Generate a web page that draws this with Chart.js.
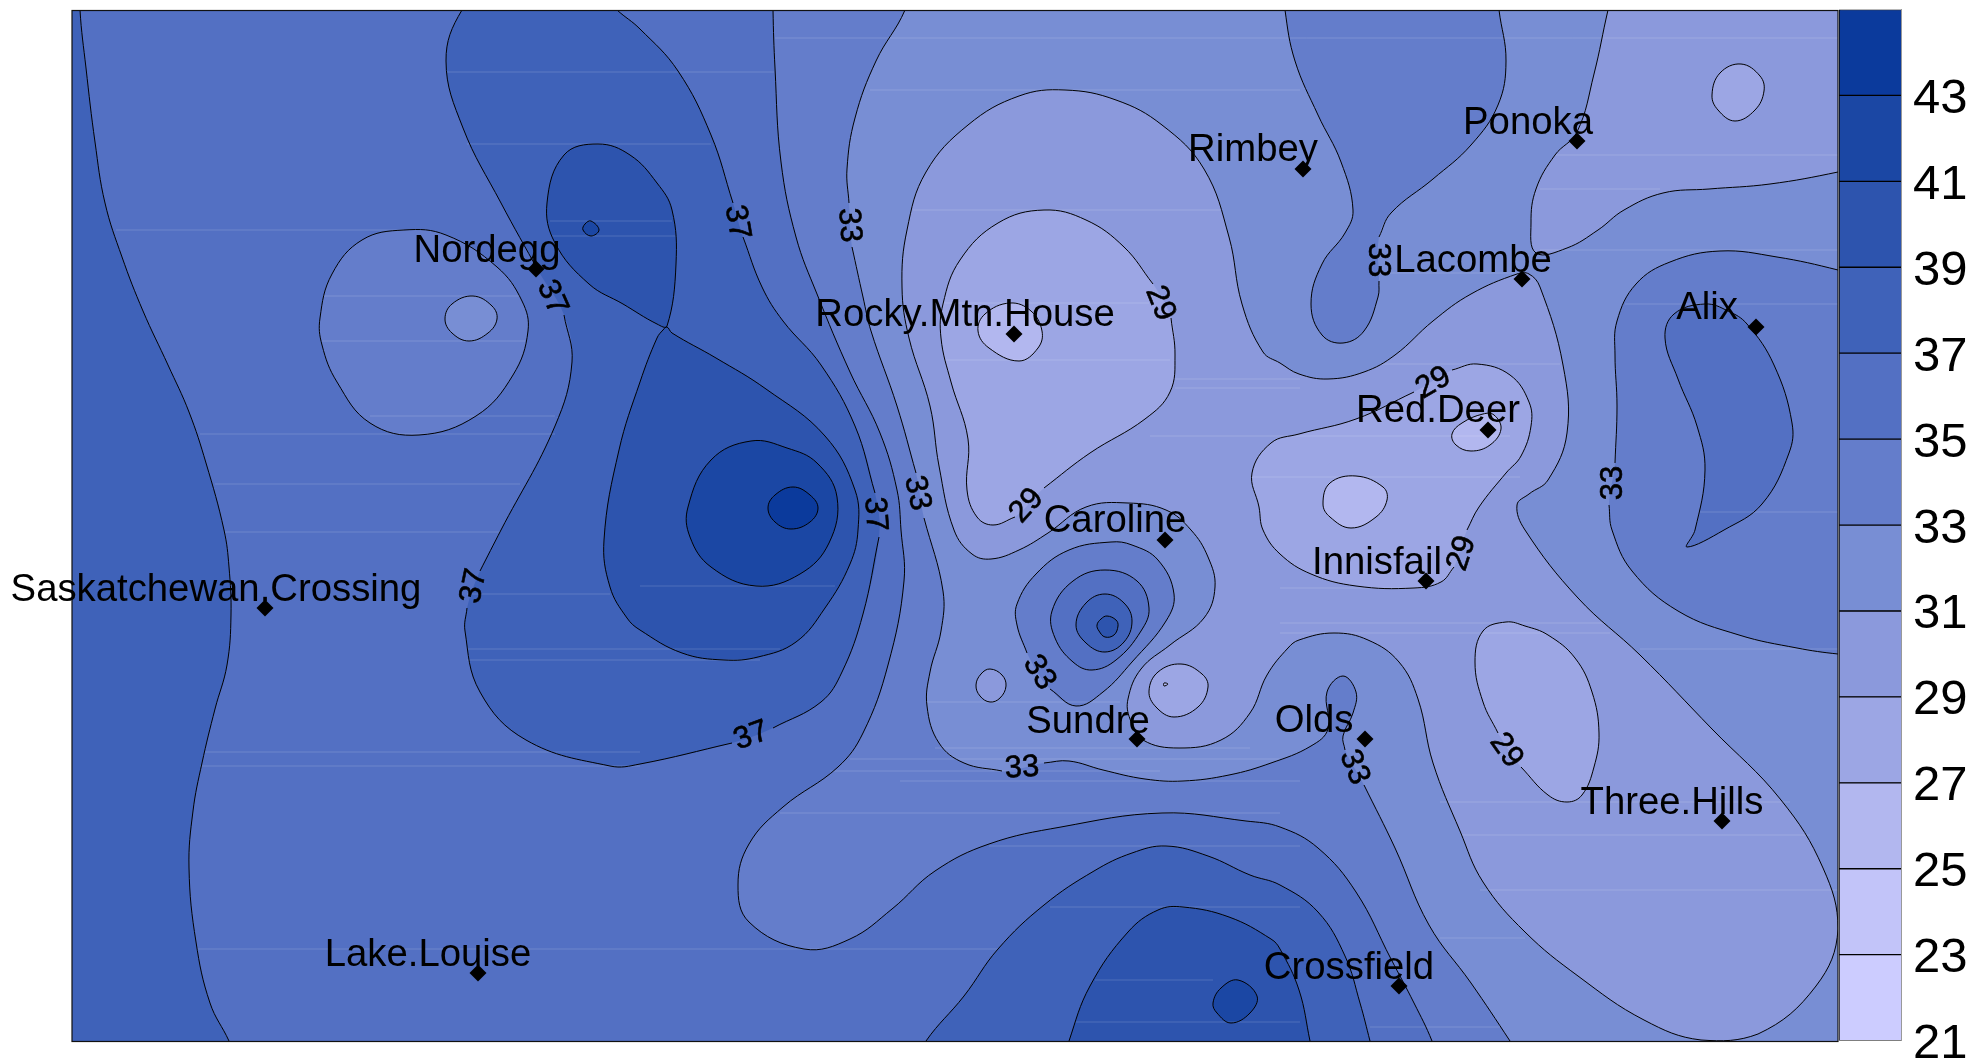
<!DOCTYPE html>
<html>
<head>
<meta charset="utf-8">
<style>
  html, body { margin: 0; padding: 0; background: #fff; overflow: hidden; }
  canvas { position: absolute; top: 0; }
</style>
<script src="https://cdn.jsdelivr.net/npm/chart.js@4"></script>
</head>
<body>
<canvas id="map" width="1973" height="1060" style="left:0"></canvas>
<canvas id="bar" width="134" height="1060" style="left:1839px"></canvas>
<script>
// colour key
const bandLevels = [21, 23, 25, 27, 29, 31, 33, 35, 37, 39, 41, 43, 45];
const keyTicks = [21, 23, 25, 27, 29, 31, 33, 35, 37, 39, 41, 43];

// stations
const stationNames = ['Nordegg', 'Rocky.Mtn.House', 'Rimbey', 'Ponoka', 'Lacombe', 'Alix', 'Red.Deer', 'Caroline', 'Innisfail',
  'Saskatchewan.Crossing', 'Sundre', 'Olds', 'Three.Hills', 'Lake.Louise', 'Crossfield'];
const stationX = [536, 1014, 1303, 1577, 1522, 1756, 1488, 1165, 1426, 265, 1137, 1365, 1722, 478, 1399];
const stationY = [269, 334, 169, 141, 279, 327, 430, 540, 581, 608, 739, 739, 821, 973, 986];
const stationTextX = [487, 965, 1253, 1528, 1473, 1707, 1438, 1115, 1377, 216, 1088, 1314, 1672, 428, 1349];
const stationTextY = [262, 326, 161, 134, 272, 319, 422, 532, 574, 601, 733, 732, 814, 966, 979];

// contour labels on the lines
const labelText = ['37', '33', '37', '37', '33', '29', '29', '33', '29', '33', '29', '37', '37', '33', '33', '33', '29'];
const labelX = [738, 850, 553, 876, 918, 1161, 1026, 1379, 1433, 1612, 1461, 473, 751, 1040, 1022, 1355, 1507];
const labelY = [222, 225, 297, 514, 493, 303, 505, 260, 382, 483, 553, 586, 735, 672, 767, 767, 750];
const labelAngle = [80, 86, 66, 86, 78, 68, -48, 90, -30, -90, -72, -78, -20, 58, -3, 68, 55];

// contour outlines, map units, null = line is broken for a label
const west37 = [[80, -30], [80, 10], [86, 68], [95, 142], [105, 203], [122, 257], [143, 311], [168, 365], [189, 412], [206, 463], [224, 530], [229, 567], [231, 615], [227, 665], [215, 709], [202, 763], [193, 811], [189, 868], [196, 942], [210, 1003], [229, 1041], [245, 1080], [30, 1080], [30, -30]];
const centre37 = [[500, -30], [462, 10], [446, 61], [463, 128], [501, 203], [539, 272], null, [564, 315], [572, 362], [555, 426], [501, 530], [480, 571], null, [467, 608], [465, 631], [480, 692], [526, 740], [610, 766], [640, 764], [732, 743], null, [773, 728], [821, 702], [842, 672], [863, 614], [879, 537], null, [875, 493], [855, 426], [821, 365], [783, 321], [762, 287], [743, 237], null, [733, 203], [711, 135], [678, 71], [640, 29], [617, 10], [575, -30]];
const lobeNorth = [[598, 144], [564, 155], [547, 203], [555, 243], [589, 284], [623, 304], [657, 324], [667, 326], [676, 264], [672, 210], [657, 183], [630, 155]];
const lobeSouth = [[667, 327], [672, 333], [716, 358], [766, 389], [825, 436], [855, 490], [858, 530], [850, 564], [825, 608], [796, 642], [758, 657], [724, 660], [682, 653], [640, 630], [627, 618], [610, 587], [604, 540], [619, 450], [640, 382], [657, 338], [663, 330]];
const peak41 = [[751, 441], [711, 460], [688, 507], [690, 537], [711, 567], [756, 586], [800, 574], [829, 543], [837, 497], [817, 463], [787, 448]];
const peak43 = [[793, 487], [810, 495], [818, 508], [810, 522], [791, 529], [775, 522], [768, 508], [775, 495]];
const dot41 = [[591, 221], [599, 230], [591, 236], [583, 230], [585, 224]];
const nordegg35 = [[404, 230], [446, 235], [497, 267], [522, 301], [528, 331], [513, 375], [476, 416], [419, 435], [370, 423], [337, 382], [322, 345], [320, 318], [332, 274], [362, 240]];
const nordegg33 = [[473, 296], [492, 306], [497, 319], [488, 333], [469, 341], [452, 333], [445, 319], [452, 304]];
const main35 = [[773, -30], [773, 10], [775, 68], [781, 162], [796, 237], [817, 294], [850, 372], [880, 433], [897, 490], [901, 530], [904, 581], [888, 665], [863, 733], [838, 767], [783, 807], [749, 844], [738, 885], [749, 922], [804, 949], [850, 939], [892, 909], [935, 871], [989, 844], [1061, 827], [1162, 813], [1246, 821], [1280, 827], [1318, 848], [1356, 892], [1391, 959], [1414, 1003], [1432, 1041], [1445, 1080], [1910, 1080], [1910, -30]];
const main33 = [[915, -30], [905, 10], [876, 61], [855, 118], [847, 169], [849, 203], null, [852, 247], [863, 297], [871, 331], [897, 406], [916, 473], null, [924, 518], [943, 591], [941, 631], [930, 672], [927, 706], [939, 743], [964, 763], [1002, 771], null, [1044, 763], [1069, 761], [1103, 770], [1145, 779], [1183, 781], [1229, 775], [1271, 763], [1311, 746], [1328, 729], [1327, 692], [1343, 676], [1356, 692], [1353, 713], [1343, 736], [1345, 750], null, [1364, 785], [1395, 848], [1429, 925], [1471, 983], [1510, 1041], [1535, 1080], [1910, 1080], [1910, -30]];
const rimbey33 = [[1282, -30], [1285, 10], [1295, 61], [1318, 115], [1341, 162], [1353, 210], [1345, 233], [1322, 264], [1311, 304], [1322, 335], [1343, 343], [1364, 331], [1378, 297], [1379, 281], null, [1379, 237], [1391, 213], [1433, 179], [1471, 145], [1498, 105], [1506, 61], [1499, 10], [1495, -30]];
const alix33 = [[1910, 290], [1838, 270], [1777, 257], [1720, 251], [1670, 262], [1636, 284], [1617, 321], [1615, 355], [1617, 406], [1615, 463], null, [1609, 505], [1612, 530], [1632, 571], [1678, 611], [1739, 635], [1797, 648], [1838, 654], [1910, 660]];
const alix35 = [[1705, 304], [1674, 314], [1665, 338], [1678, 379], [1697, 426], [1705, 470], [1695, 530], [1687, 547], [1724, 530], [1762, 504], [1789, 453], [1792, 423], [1774, 365], [1747, 324], [1728, 311]];
const caroline33 = [[1111, 542], [1069, 550], [1036, 574], [1017, 604], [1017, 625], [1027, 653], null, [1050, 689], [1076, 706], [1103, 692], [1132, 662], [1166, 621], [1174, 594], [1158, 560], [1132, 545]];
const caroline35 = [[1105, 570], [1073, 581], [1052, 611], [1055, 638], [1073, 662], [1092, 670], [1116, 660], [1141, 631], [1149, 608], [1137, 581]];
const caroline37 = [[1105, 594], [1124, 603], [1132, 621], [1124, 642], [1105, 652], [1086, 643], [1076, 625], [1086, 603]];
const caroline39 = [[1107, 616], [1116, 620], [1118, 626], [1114, 635], [1105, 637], [1099, 631], [1097, 625], [1101, 619]];
const main31 = [[1065, 90], [1019, 96], [968, 125], [926, 172], [907, 230], [902, 287], [909, 338], [930, 406], [939, 466], [954, 530], [972, 554], [991, 559], [1019, 550], [1048, 533], [1086, 507], [1128, 503], [1166, 510], [1191, 530], [1208, 557], [1215, 587], [1204, 618], [1170, 645], [1141, 669], [1128, 699], [1130, 719], [1143, 740], [1179, 748], [1221, 740], [1250, 713], [1267, 675], [1288, 648], [1299, 640], [1334, 633], [1368, 640], [1399, 662], [1418, 699], [1433, 763], [1460, 831], [1483, 882], [1525, 932], [1578, 976], [1644, 1020], [1701, 1040], [1758, 1034], [1816, 986], [1838, 929], [1823, 868], [1781, 800], [1712, 729], [1640, 655], [1578, 598], [1525, 530], [1517, 505], [1529, 494], [1548, 480], [1567, 433], [1563, 365], [1540, 287], [1529, 274], [1517, 274], [1471, 294], [1433, 321], [1395, 355], [1364, 372], [1328, 379], [1299, 374], [1280, 363], [1263, 352], [1242, 304], [1229, 237], [1204, 169], [1162, 125], [1116, 100]];
const ponoka31 = [[1618, -30], [1608, 10], [1594, 74], [1577, 132], [1555, 155], [1536, 189], [1531, 223], [1536, 253], [1567, 248], [1598, 230], [1624, 210], [1663, 193], [1709, 189], [1770, 184], [1838, 172], [1910, 155], [1910, -30]];
const ponoka29 = [[1741, 64], [1760, 76], [1764, 91], [1755, 110], [1735, 121], [1718, 110], [1712, 95], [1720, 73]];
const island31 = [[990, 669], [1002, 675], [1006, 686], [1000, 698], [990, 702], [980, 696], [976, 685], [981, 674]];
const rocky29 = [[1044, 210], [998, 223], [960, 260], [943, 304], [941, 338], [951, 382], [968, 439], [967, 490], [977, 517], [993, 525], [1015, 517], null, [1044, 488], [1090, 453], [1145, 419], [1170, 392], [1175, 355], [1171, 318], null, [1153, 284], [1124, 247], [1086, 220]];
const rocky27 = [[1010, 303], [985, 314], [978, 331], [989, 348], [1019, 361], [1038, 348], [1042, 331], [1031, 311]];
const sundre29 = [[1181, 664], [1202, 674], [1208, 687], [1198, 707], [1174, 717], [1156, 707], [1149, 691], [1158, 672]];
const sundre27 = [[1164, 683], [1168, 684], [1164, 686]];
const innisfail29 = [[1477, 364], [1510, 375], [1529, 402], [1531, 426], [1521, 456], [1506, 473], [1479, 507], [1467, 530], null, [1454, 567], [1441, 582], [1414, 588], [1356, 586], [1311, 574], [1280, 554], [1263, 530], [1259, 507], [1252, 473], [1271, 443], [1299, 434], [1356, 419], [1414, 392], null, [1452, 370]];
const reddeer27 = [[1494, 415], [1501, 429], [1490, 445], [1471, 451], [1456, 445], [1452, 434], [1462, 423], [1483, 414]];
const innisfail27 = [[1356, 476], [1383, 487], [1387, 500], [1376, 517], [1351, 528], [1330, 517], [1323, 504], [1330, 483]];
const hills29 = [[1506, 622], [1483, 631], [1475, 662], [1483, 702], [1498, 733], null, [1521, 767], [1548, 795], [1567, 802], [1582, 795], [1594, 767], [1599, 733], [1592, 692], [1575, 658], [1548, 635], [1525, 626]];
const south37 = [[905, 1080], [926, 1041], [964, 996], [998, 949], [1044, 905], [1094, 871], [1132, 853], [1166, 846], [1208, 856], [1250, 875], [1280, 885], [1318, 912], [1345, 956], [1360, 1003], [1370, 1041], [1380, 1080]];
const south39 = [[1058, 1080], [1069, 1041], [1090, 986], [1128, 932], [1158, 910], [1183, 907], [1229, 917], [1271, 939], [1280, 949], [1299, 990], [1310, 1041], [1318, 1080]];
const south41 = [[1238, 980], [1257, 996], [1250, 1013], [1231, 1023], [1217, 1013], [1213, 1003], [1221, 988]];

// faint light streaks across the fill: y, from x, to x
const streaks = [
  [72, 447, 774], [144, 467, 711], [221, 550, 672], [236, 552, 675], [230, 116, 404], [296, 323, 520], [341, 322, 525], [416, 370, 555],
  [434, 200, 555], [484, 215, 520], [532, 225, 500], [594, 467, 610], [649, 467, 780], [660, 467, 760], [752, 205, 640], [766, 200, 640], [949, 197, 998],
  [38, 775, 1838], [90, 870, 1300], [210, 913, 1220], [303, 943, 1149], [360, 945, 1170], [379, 1175, 1300], [388, 1175, 1300], [436, 1150, 1510], [477, 1252, 1520],
  [155, 1555, 1838], [189, 1540, 1660], [250, 1540, 1838], [273, 1380, 1525], [304, 1625, 1838], [364, 1380, 1560], [512, 1700, 1838],
  [586, 640, 835], [702, 926, 1120], [748, 935, 1250], [759, 850, 1280], [771, 830, 1160], [781, 900, 1300], [813, 780, 1280], [846, 989, 1300], [907, 1050, 1300], [980, 1095, 1213], [1022, 1075, 1300],
  [588, 1280, 1420], [623, 1280, 1605], [633, 1280, 1610], [649, 1640, 1838], [802, 1440, 1790], [835, 1460, 1810], [890, 1480, 1838], [938, 1440, 1525], [1027, 1370, 1500]
];

// one colour per band of the key, lightest first
const bandColors = ['#ccccff', '#c2c4f9', '#b2b7ef', '#9ca6e4', '#8b99dc', '#788ed4', '#647dcb', '#5370c3', '#3f62b9', '#2d54ae', '#1b47a4', '#0b3a9c'];
const band = lo => bandColors[bandLevels.indexOf(lo)];

// fills in painter's order, each one sits on top of the last
const layers = [
  [west37, 37], [centre37, 37], [lobeNorth, 39], [lobeSouth, 39], [peak41, 41], [peak43, 43], [dot41, 41],
  [nordegg35, 33], [nordegg33, 31],
  [south37, 37], [south39, 39], [south41, 41],
  [main35, 33], [main33, 31], [rimbey33, 33], [alix33, 33], [alix35, 35],
  [caroline33, 33], [caroline35, 35], [caroline37, 37], [caroline39, 39],
  [main31, 29], [ponoka31, 29], [ponoka29, 27], [island31, 29], [rocky29, 27], [rocky27, 25],
  [sundre29, 27], [sundre27, 25], [innisfail29, 27], [reddeer27, 25], [innisfail27, 25], [hills29, 27]
];

const toPoint = p => p ? { x: p[0], y: p[1] } : { x: null, y: null };

// wrap the ring one step each way so the spline has no corner where it closes
const wrapRing = pts => [pts[pts.length - 1], ...pts, pts[0], pts[1]];

const datasets = [];
// whole map starts in the 35-37 band
datasets.push({
  data: [[30, -30], [1910, -30], [1910, 1080], [30, 1080]].map(toPoint),
  showLine: true, fill: 'shape', backgroundColor: band(35), borderWidth: 0, pointRadius: 0, tension: 0
});
layers.forEach(([outline, lo]) => {
  datasets.push({
    data: wrapRing(outline.filter(Boolean)).map(toPoint),
    showLine: true, fill: 'shape', backgroundColor: band(lo), borderWidth: 0, pointRadius: 0, tension: 0.4
  });
});
streaks.forEach(([y, x0, x1]) => {
  datasets.push({
    data: [{ x: x0, y }, { x: x1, y }],
    showLine: true, borderColor: 'rgba(255,255,255,0.16)', borderWidth: 1, pointRadius: 0
  });
});
layers.forEach(([outline]) => {
  const ring = wrapRing(outline);
  datasets.push({
    data: ring.map(toPoint),
    showLine: true, fill: false, borderColor: '#000', borderWidth: 1, pointRadius: 0, tension: 0.4,
    // the first and last steps only shape the curve, they are not drawn
    segment: { borderColor: c => (c.p0DataIndex === 0 || c.p1DataIndex === ring.length - 1) ? 'rgba(0,0,0,0)' : undefined }
  });
});
datasets.push({
  data: stationX.map((x, i) => ({ x, y: stationY[i] })),
  pointStyle: 'rectRot', pointRadius: 8.5, pointBackgroundColor: '#000', pointBorderWidth: 0
});

// text on the map and the black frame
const mapText = {
  id: 'mapText',
  afterDraw(chart) {
    const { ctx, chartArea: a, scales: { x, y } } = chart;
    ctx.save();
    ctx.strokeStyle = '#111';
    ctx.lineWidth = 1.2;
    ctx.strokeRect(a.left, a.top, a.right - a.left, a.bottom - a.top);
    ctx.fillStyle = '#000';
    ctx.textAlign = 'center';
    ctx.textBaseline = 'alphabetic';
    ctx.font = '38.3px "Liberation Sans"';
    stationNames.forEach((name, i) => {
      ctx.fillText(name, x.getPixelForValue(stationTextX[i]), y.getPixelForValue(stationTextY[i]));
    });
    ctx.font = '31px "Liberation Sans"';
    ctx.textBaseline = 'middle';
    ctx.strokeStyle = '#000';
    ctx.lineWidth = 0.6;
    labelText.forEach((t, i) => {
      ctx.save();
      ctx.translate(x.getPixelForValue(labelX[i]), y.getPixelForValue(labelY[i]));
      ctx.rotate(labelAngle[i] * Math.PI / 180);
      ctx.fillText(t, 0, 1);
      ctx.strokeText(t, 0, 1);
      ctx.restore();
    });
    ctx.restore();
  }
};

new Chart(document.getElementById('map'), {
  type: 'scatter',
  data: { datasets: datasets.reverse() },
  plugins: [mapText],
  options: {
    responsive: false,
    animation: false,
    layout: { padding: { left: 72, right: 135, top: 10.5, bottom: 18.5 } },
    plugins: { legend: { display: false }, tooltip: { enabled: false } },
    scales: {
      x: { display: false, min: 72, max: 1838 },
      y: { display: false, min: 10.5, max: 1041.5, reverse: true }
    }
  }
});

// colour key on the right
const keyBands = bandLevels.slice(0, -1).map((lo, i) => ({
  data: [[lo, bandLevels[i + 1]]],
  backgroundColor: bandColors[i],
  borderColor: '#000',
  borderWidth: { top: 1, bottom: 1, left: 1, right: 0 },
  borderSkipped: false,
  barPercentage: 1,
  categoryPercentage: 1,
  grouped: false
}));

new Chart(document.getElementById('bar'), {
  type: 'bar',
  data: { labels: [''], datasets: keyBands },
  options: {
    responsive: false,
    animation: false,
    layout: { padding: { top: 9.5, bottom: 19.4 } },
    plugins: { legend: { display: false }, tooltip: { enabled: false } },
    scales: {
      x: { display: false },
      y: {
        position: 'right',
        min: 21,
        max: 45,
        grid: { display: false, drawTicks: false },
        border: { color: '#999', width: 1 },
        afterBuildTicks: s => { s.ticks = keyTicks.map(value => ({ value })); },
        afterFit: s => { s.width = 72; s.paddingTop = 0; s.paddingBottom = 0; },
        ticks: {
          autoSkip: false,
          padding: 12,
          labelOffset: 4,
          color: '#000',
          font: { family: '"Liberation Sans"', size: 49 }
        }
      }
    }
  }
});
</script>
</body>
</html>
